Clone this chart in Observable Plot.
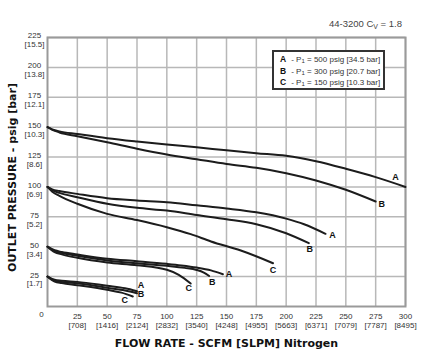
<!DOCTYPE html>
<html>
<head>
<meta charset="utf-8">
<script src="https://cdn.jsdelivr.net/npm/d3@7"></script>
<script src="https://cdn.jsdelivr.net/npm/@observablehq/plot@0.6"></script>
<style>
  body { margin: 0; background: #fff; }
  #wrap { position: relative; width: 421px; height: 358px; font-family: "Liberation Sans", Arial, sans-serif; }
  #wrap svg { position: absolute; left: 0; top: 0; }
  #title { position: absolute; right: 19px; top: 18px; font-size: 9.5px; line-height: 11px; color: #444; white-space: nowrap; }
  #title sub { font-size: 7px; vertical-align: -2px; line-height: 0; }
  #legend { position: absolute; left: 272px; top: 50px; width: 113px; height: 40px; box-sizing: border-box;
            border: 2px solid #333; background: #fff; padding: 2px 0 0 6px; font-size: 8px; line-height: 10.7px; color: #333; }
  #legend b { display: inline-block; width: 9px; color: #111; font-size: 8.5px; }
  #legend sub { font-size: 6px; vertical-align: -1px; line-height: 0; }
</style>
</head>
<body>
<div id="wrap"></div>
<script>
// ---- data ----
const xTickValues = [25, 50, 75, 100, 125, 150, 175, 200, 225, 250, 275, 300];
const xTickSlpm = ["708", "1416", "2124", "2832", "3540", "4248", "4955", "5663", "6371", "7079", "7787", "8495"];
const yTickValues = [25, 50, 75, 100, 125, 150, 175, 200, 225];
const yTickBar = ["1.7", "3.4", "5.2", "6.9", "8.6", "10.3", "12.1", "13.8", "15.5"];

const legendKeys = ["A", "B", "C"];
const inletPsig = [500, 300, 150];
const inletBar = ["34.5", "20.7", "10.3"];

// curves: [flow SCFM, outlet psig]
const p150A = [[0,150],[4,148.2],[10,146.5],[25,144.3],[50,140.8],[75,138],[100,135.5],[125,133.2],[150,130.6],[175,128.2],[200,126],[225,121.5],[250,115.2],[275,108.2],[300,100]];
const p150B = [[0,150],[4,147.8],[10,145.6],[25,142.4],[50,137.4],[75,132],[100,127.2],[125,123.2],[150,119.2],[175,116],[200,111.5],[225,105.4],[250,97.6],[275,87.8]];
const p100A = [[0,100],[4,98],[10,96.6],[25,94.2],[50,90.6],[75,88.7],[100,87.2],[125,84.6],[150,82],[175,78.8],[200,73.5],[215,68.8],[233,60.8]];
const p100B = [[0,100],[4,97.4],[10,95],[25,91.4],[50,85.9],[75,82.5],[100,80.2],[125,76.5],[150,73],[175,68.8],[200,61.3],[219,53]];
const p100C = [[0,100],[4,96],[10,92.5],[25,85.9],[50,77.5],[75,72.3],[100,66.3],[120,60.5],[137,54.4],[162,46.8],[189,36.2]];
const p50A = [[0,50],[6,47],[12,45.6],[25,43.5],[50,39.9],[75,37.9],[100,35.7],[112,34.4],[125,32.6],[137,30.2],[147,27]];
const p50B = [[0,50],[6,46.3],[12,44.8],[25,42.4],[50,38.5],[75,36.2],[100,34],[115,32.3],[125,30.6],[131,28.4],[135.5,25.5]];
const p50C = [[0,50],[6,45.5],[12,43.6],[25,40.7],[50,36.8],[75,34.5],[100,30.7],[110,26.5],[120,19.2]];
const p25A = [[0,25],[6,22.3],[12,21.5],[25,20.6],[50,17.3],[65,15.2],[75,12.8]];
const p25B = [[0,25],[6,21.6],[12,20.6],[25,19.5],[50,15.6],[65,13.4],[75,11.1]];
const p25C = [[0,25],[6,20.8],[12,19.6],[25,17.8],[50,14],[62,11.6],[71.5,8.4]];

const curves = [
  {id: "150A", key: "A", pts: p150A}, {id: "150B", key: "B", pts: p150B},
  {id: "100A", key: "A", pts: p100A}, {id: "100B", key: "B", pts: p100B}, {id: "100C", key: "C", pts: p100C},
  {id: "50A", key: "A", pts: p50A}, {id: "50B", key: "B", pts: p50B}, {id: "50C", key: "C", pts: p50C},
  {id: "25A", key: "A", pts: p25A}, {id: "25B", key: "B", pts: p25B}, {id: "25C", key: "C", pts: p25C}
];

// label offsets (pixels) from each curve's end point — styling only
const labelOffset = {
  "150A": [-10, -10], "150B": [6, 3],
  "100A": [7, 1], "100B": [1, 6], "100C": [0, 7],
  "50A": [6, 0], "50B": [3, 6], "50C": [-2, 5],
  "25A": [4, -6], "25B": [4, 1], "25C": [-8, 4]
};

const rows = curves.flatMap(c => c.pts.map(([x, y]) => ({id: c.id, x, y})));
const slpmOf = new Map(xTickValues.map((v, i) => [v, xTickSlpm[i]]));
const barOf = new Map(yTickValues.map((v, i) => [v, yTickBar[i]]));

const font = "Liberation Sans, Arial, sans-serif";

const chart = Plot.plot({
  width: 421,
  height: 358,
  marginLeft: 47,
  marginRight: 16,
  marginTop: 37,
  marginBottom: 52,
  style: {fontFamily: font, background: "transparent"},
  x: {domain: [0, 300]},
  y: {domain: [0, 225]},
  marks: [
    Plot.gridX(xTickValues, {stroke: "#b8b8b8", strokeOpacity: 1, strokeWidth: 1.5}),
    Plot.gridY(yTickValues, {stroke: "#b8b8b8", strokeOpacity: 1, strokeWidth: 1.5}),
    Plot.frame({stroke: "#9a9a9a", strokeWidth: 2}),
    Plot.line(rows, {x: "x", y: "y", z: "id", stroke: "#1c1c1c", strokeWidth: 2, curve: "monotone-x"}),
    ...curves.map(c => {
      const last = c.pts[c.pts.length - 1];
      const [dx, dy] = labelOffset[c.id];
      return Plot.text([{x: last[0], y: last[1], t: c.key}], {
        x: "x", y: "y", text: "t", dx, dy, fontSize: 9, fontWeight: "bold", fill: "#111"
      });
    }),
    Plot.axisX(xTickValues, {
      tickSize: 0, tickPadding: 6, fontSize: 8, lineHeight: 1.12, fill: "#333", label: null,
      tickFormat: d => `${d}\n[${slpmOf.get(d)}]`
    }),
    Plot.axisY(yTickValues, {
      tickSize: 0, tickPadding: 13, textAnchor: "middle", dy: 2.5, fontSize: 8, lineHeight: 1.12, fill: "#333", label: null,
      tickFormat: d => `${d}\n[${barOf.get(d)}]`
    }),
    Plot.text([0], {x: d => d, y: d => d, text: d => String(d), dx: -6, dy: 8, fontSize: 8, fill: "#333"}),
    Plot.text(["FLOW RATE - SCFM [SLPM] Nitrogen"], {
      frameAnchor: "bottom", textAnchor: "middle", lineAnchor: "middle", dy: 37, text: d => d,
      fontSize: 11, fontWeight: "bold", fontFamily: "DejaVu Sans, sans-serif", fill: "#111"
    }),
    Plot.text(["OUTLET PRESSURE - psig [bar]"], {
      frameAnchor: "left", textAnchor: "middle", lineAnchor: "middle", dx: -35, dy: 5.5, rotate: -90, text: d => d,
      fontSize: 11, fontWeight: "bold", fontFamily: "DejaVu Sans, sans-serif", fill: "#111"
    })
  ]
});

const wrap = document.getElementById("wrap");
wrap.appendChild(chart);

const title = document.createElement("div");
title.id = "title";
title.innerHTML = "44-3200 C<sub>V</sub> = 1.8";
wrap.appendChild(title);

const legend = document.createElement("div");
legend.id = "legend";
legend.innerHTML = legendKeys.map((k, i) =>
  `<div><b>${k}</b> - P<sub>1</sub> = ${inletPsig[i]} psig [${inletBar[i]} bar]</div>`).join("");
wrap.appendChild(legend);
</script>
</body>
</html>
